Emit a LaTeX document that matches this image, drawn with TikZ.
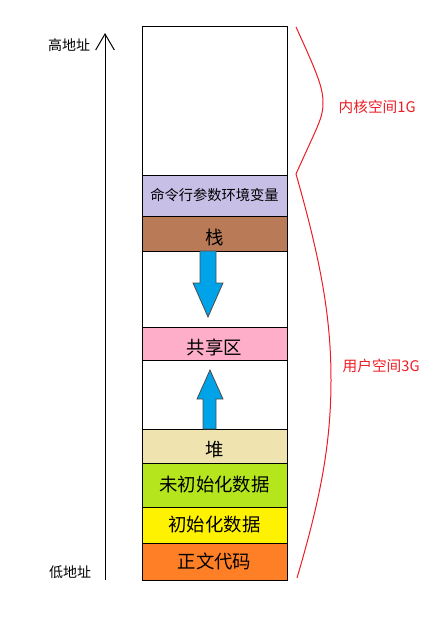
\documentclass[tikz,border=0pt]{standalone}
\usepackage{fontspec}
\setmainfont{Noto Sans CJK SC}
\usepackage{tikz}
\usetikzlibrary{arrows.meta}
\definecolor{cmdc}{RGB}{200,191,231}
\definecolor{stackc}{RGB}{185,122,87}
\definecolor{sharec}{RGB}{255,174,201}
\definecolor{heapc}{RGB}{239,228,176}
\definecolor{bssc}{RGB}{181,230,29}
\definecolor{datac}{RGB}{255,242,0}
\definecolor{textc}{RGB}{255,127,39}
\definecolor{arrc}{RGB}{0,162,232}
\definecolor{bracec}{RGB}{237,28,36}
\newcommand{\low}[1]{\raisebox{-3pt}[\height][\depth]{#1}}

\begin{document}
\begin{tikzpicture}[x=0.75pt,y=-0.75pt,
	blk/.style={draw,line width=0.75pt,minimum width=108.75pt,inner sep=0pt,outer sep=0pt,anchor=north west,font=\fontsize{13.8}{13.8}\selectfont},
	fat/.style={fill=arrc,draw=black!70,line width=0.6pt},
	brace/.style={bracec,line width=0.75pt},
	side/.style={bracec,font=\fontsize{11}{11}\selectfont}]
	\useasboundingbox (0,0) rectangle (425,628);
	% memory blocks
	\node[blk,minimum height=111.75pt] (top) at (142,26){};
	\node[blk,minimum height=30.75pt,fill=cmdc,font=\fontsize{10.7}{10.7}\selectfont] (cmd) at (142,175){命令行参数环境变量};
	\node[blk,minimum height=26.25pt,fill=stackc] (stack) at (142,216){\low{栈}};
	\node[blk,minimum height=57pt] (gapa) at (142,251){};
	\node[blk,minimum height=24.75pt,fill=sharec] (share) at (142,327){\low{共享区}};
	\node[blk,minimum height=51.75pt] (gapb) at (142,360){};
	\node[blk,minimum height=25.5pt,fill=heapc] (heap) at (142,429){\low{堆}};
	\node[blk,minimum height=33pt,fill=bssc] (bss) at (142,463){未初始化数据};
	\node[blk,minimum height=27pt,fill=datac] (data) at (142,507){初始化数据};
	\node[blk,minimum height=27.75pt,fill=textc] (code) at (142,543){正文代码};

	% growth arrows
	\draw[fat] (200,251) -- (216,251) -- (216,283) -- (223,283) -- (208,317) -- (193,283) -- (200,283) -- cycle;
	\draw[fat] (203,429) -- (216,429) -- (216,399) -- (223,399) -- (210,370) -- (197,399) -- (203,399) -- cycle;

	% address axis
	\coordinate (lo) at (105,580);
	\coordinate (hi) at (105,33);
	\draw[line width=0.75pt,-{Straight Barb[length=12pt,width=14pt,line width=0.75pt]}] (lo) -- (hi);
	\node[font=\fontsize{10.5}{10.5}\selectfont] (hil) at (69,45){高地址};
	\node[font=\fontsize{10.5}{10.5}\selectfont] (lol) at (70,572){低地址};

	% braces
	\draw[brace] (296,27) .. controls (318,75) and (323,88) .. (323,103) .. controls (323,118) and (318,125) .. (296,174);
	\draw[brace] (296,174) .. controls (322,265) and (331,320) .. (331,380) .. controls (331,445) and (320,500) .. (297,578);
	\node[side,anchor=west] (kern) at (334,107){内核空间1G};
	\node[side,anchor=west] (user) at (338,366){用户空间3G};
\end{tikzpicture}
\end{document}
